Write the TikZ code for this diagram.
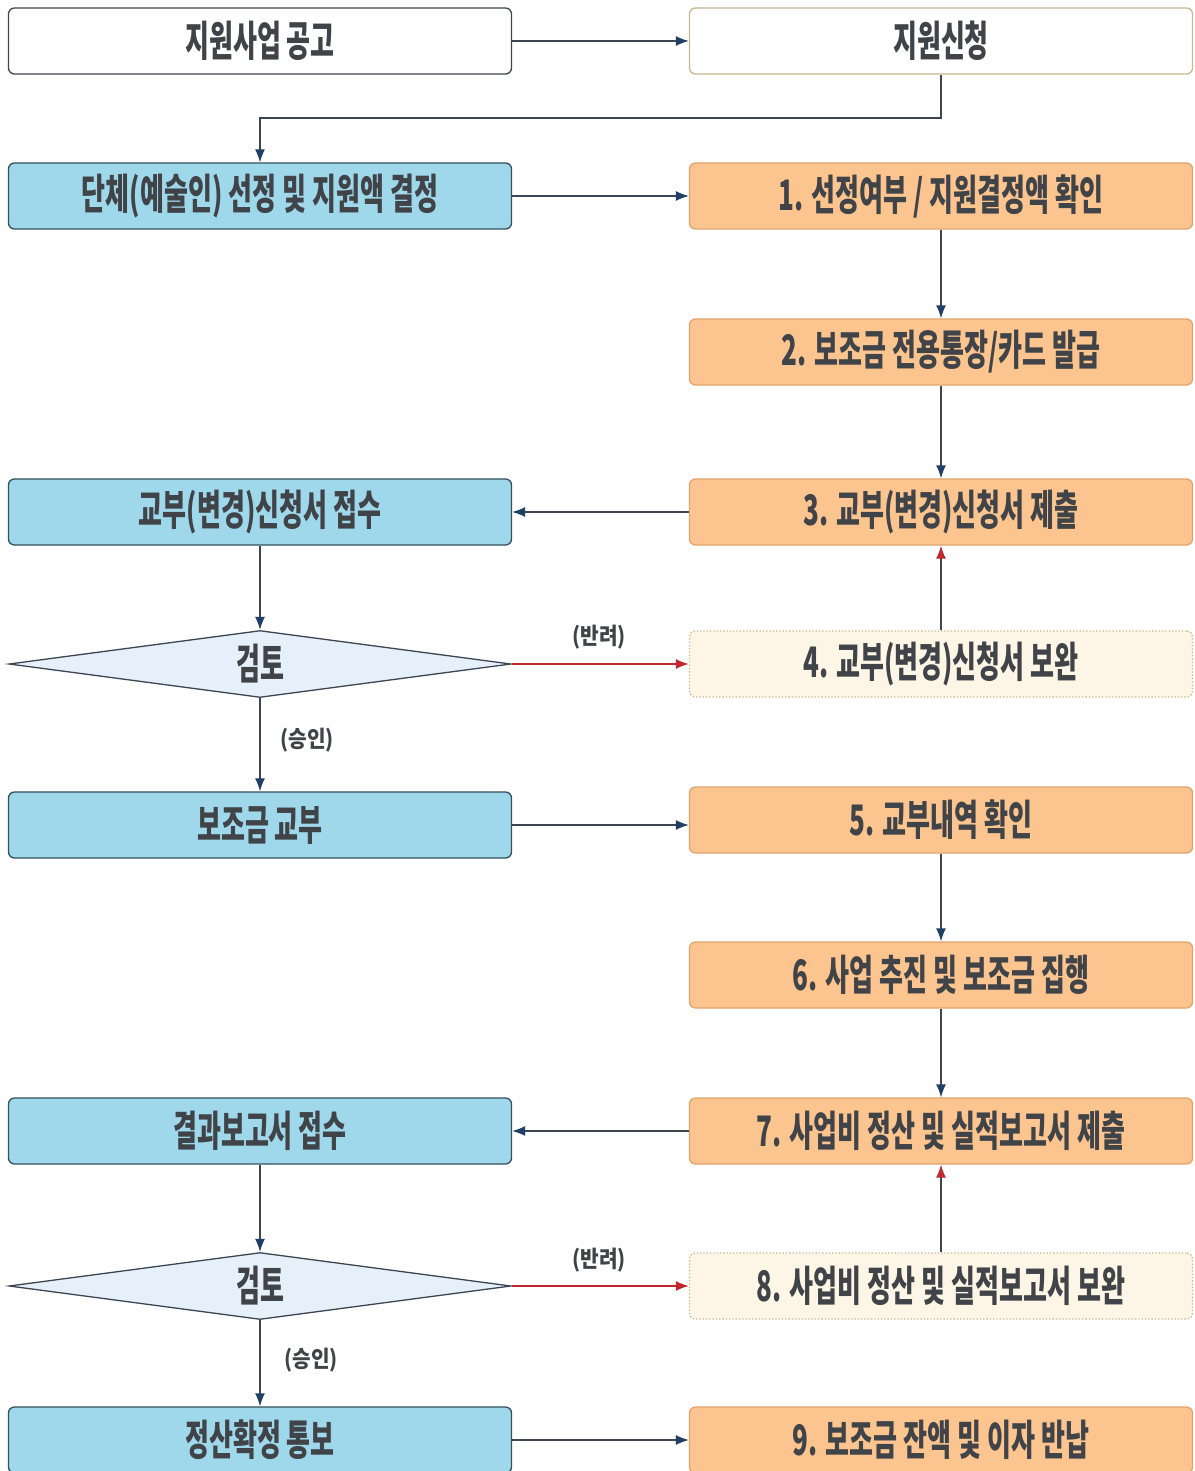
\documentclass[tikz,border=0pt]{standalone}
\usepackage{fontspec}
\usetikzlibrary{shapes.geometric,arrows.meta}
\newfontfamily\kr[FakeStretch=0.62]{Noto Sans CJK KR}
\newfontfamily\krlab[FakeStretch=0.88]{Noto Sans CJK KR}
\definecolor{bluefill}{HTML}{9FD8EA}
\definecolor{blueedge}{HTML}{34505E}
\definecolor{orfill}{HTML}{FCC58F}
\definecolor{oredge}{HTML}{E2A46C}
\definecolor{paleor}{HTML}{FDF6E6}
\definecolor{paleedge}{HTML}{C9B88E}
\definecolor{diafill}{HTML}{E6F0FA}
\definecolor{linec}{HTML}{3C4652}
\definecolor{tipc}{HTML}{1F3F66}
\definecolor{redc}{HTML}{C0282D}
\definecolor{txtc}{HTML}{404347}
\tikzset{
  box/.style={rounded corners=6pt, minimum width=503pt, minimum height=66pt, inner sep=0pt, line width=1.3pt, font=\kr\bfseries\fontsize{42}{42}\selectfont, text=txtc},
  bluebox/.style={box, fill=bluefill, draw=blueedge},
  orbox/.style={box, fill=orfill, draw=oredge},
  palebox/.style={box, fill=paleor, draw=paleedge, dotted, line width=1.4pt},
  whitebox/.style={box, fill=white, draw=#1},
  dia/.style={diamond, minimum width=502pt, minimum height=67pt, inner sep=0pt, fill=diafill, draw=linec, line width=1.3pt},
  diatext/.style={font=\kr\bfseries\fontsize{42}{42}\selectfont, text=txtc, inner sep=0pt},
  conn/.style={draw=linec, line width=1.3pt, -{Latex[length=13pt,width=10pt,color=tipc]}},
  rconn/.style={draw=redc, line width=1.3pt, -{Latex[length=13pt,width=10pt,color=redc]}},
  upconn/.style={draw=linec, line width=1.3pt, -{Latex[length=13pt,width=10pt,color=redc]}},
  lab/.style={font=\krlab\bfseries\fontsize{23}{23}\selectfont, text=txtc, inner sep=0pt}
}
\begin{document}
\begin{tikzpicture}[x=1pt,y=-1pt]
\useasboundingbox (0,0) rectangle (1194,1471);
\fill[white] (0,0) rectangle (1194,1471);
% left column
\node[whitebox=linec] (a0) at (260,41) {지원사업 공고};
\node[bluebox] (l1) at (260,196) {단체(예술인) 선정 및 지원액 결정};
\node[bluebox] (l3) at (260,512) {교부(변경)신청서 접수};
\node[dia, label={[diatext]center:검토}] (d1) at (260,664) {};
\node[bluebox] (l5) at (260,825) {보조금 교부};
\node[bluebox] (l7) at (260,1131) {결과보고서 접수};
\node[dia, label={[diatext]center:검토}] (d2) at (260,1286) {};
\node[bluebox] (l9) at (260,1440) {정산확정 통보};
% right column
\node[whitebox=paleedge] (r0) at (941,41) {지원신청};
\node[orbox] (r1) at (941,196) {1. 선정여부 / 지원결정액 확인};
\node[orbox] (r2) at (941,352) {2. 보조금 전용통장/카드 발급};
\node[orbox] (r3) at (941,512) {3. 교부(변경)신청서 제출};
\node[palebox] (r4) at (941,664) {4. 교부(변경)신청서 보완};
\node[orbox] (r5) at (941,820) {5. 교부내역 확인};
\node[orbox] (r6) at (941,975) {6. 사업 추진 및 보조금 집행};
\node[orbox] (r7) at (941,1131) {7. 사업비 정산 및 실적보고서 제출};
\node[palebox] (r8) at (941,1286) {8. 사업비 정산 및 실적보고서 보완};
\node[orbox] (r9) at (941,1440) {9. 보조금 잔액 및 이자 반납};
% labels
\node[lab] (b1) at (599,637) {(반려)};
\node[lab] (s1) at (307,740) {(승인)};
\node[lab] (b2) at (599,1260) {(반려)};
\node[lab] (s2) at (311,1360) {(승인)};
% connectors
\coordinate (k1) at (260,118);
\draw[conn] (a0.east) -- (r0.west);
\draw[conn] (r0.south) |- (k1) -- (l1.north);
\draw[conn] (l1.east) -- (r1.west);
\draw[conn] (r1.south) -- (r2.north);
\draw[conn] (r2.south) -- (r3.north);
\draw[conn] (r3.west) -- (l3.east);
\draw[conn] (l3.south) -- (d1.north);
\draw[rconn] (d1.east) -- (r4.west);
\draw[upconn] (r4.north) -- (r3.south);
\draw[conn] (d1.south) -- (l5.north);
\draw[conn] (l5.east) -- (l5.east -| r5.west);
\draw[conn] (r5.south) -- (r6.north);
\draw[conn] (r6.south) -- (r7.north);
\draw[conn] (r7.west) -- (l7.east);
\draw[conn] (l7.south) -- (d2.north);
\draw[rconn] (d2.east) -- (r8.west);
\draw[upconn] (r8.north) -- (r7.south);
\draw[conn] (d2.south) -- (l9.north);
\draw[conn] (l9.east) -- (l9.east -| r9.west);
\end{tikzpicture}
\end{document}
